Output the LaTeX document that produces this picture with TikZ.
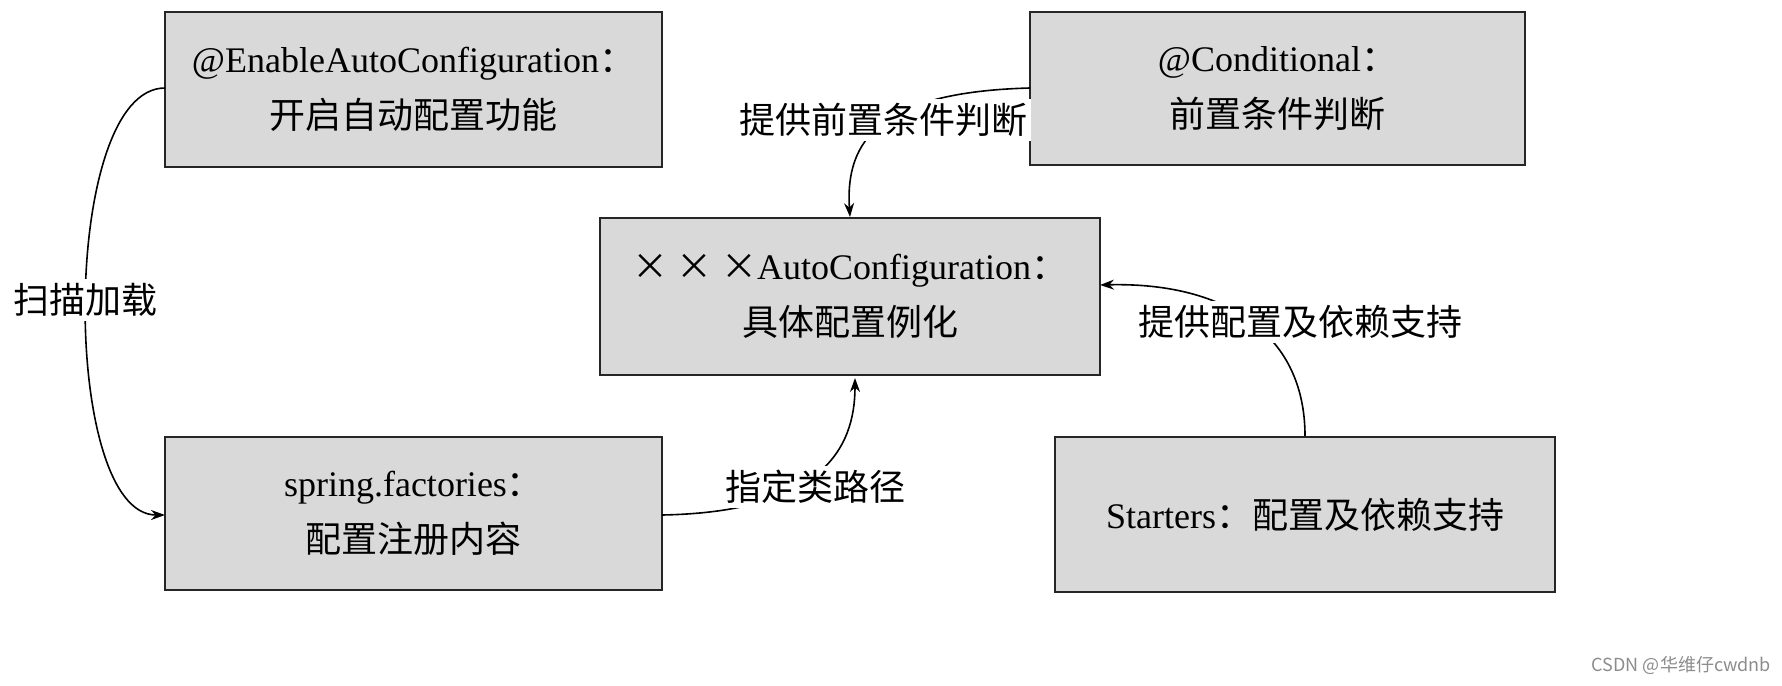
\documentclass[tikz,border=0pt]{standalone}
\usepackage{fontspec}
\setmainfont{Liberation Serif}
\newfontfamily\cjk{Noto Sans CJK SC}
\usetikzlibrary{arrows.meta}
\begin{document}
\begin{tikzpicture}[x=0.5pt,y=-0.5pt,
  box/.style={draw=black!85,line width=1pt,fill=black!15,inner sep=0pt,align=center,font=\fontsize{18}{28}\selectfont},
  lab/.style={fill=white,inner sep=2pt,font=\fontsize{18}{22}\selectfont\cjk},
  conn/.style={line width=0.8pt,-{Stealth[length=7pt,width=5pt]}}]
\useasboundingbox (0,0) rectangle (1782,685);
\node[box,minimum width=497*0.5pt,minimum height=155*0.5pt] (en) at (413.5,89.5) {@EnableAutoConfiguration{\cjk ：}\\{\cjk 开启自动配置功能}};
\node[box,minimum width=495*0.5pt,minimum height=153*0.5pt] (co) at (1277.5,88.5) {@Conditional{\cjk ：}\\{\cjk 前置条件判断}};
\node[box,minimum width=500*0.5pt,minimum height=157*0.5pt] (ce) at (850,296.5) {{\cjk × × ×}AutoConfiguration{\cjk ：}\\{\cjk 具体配置例化}};
\node[box,minimum width=497*0.5pt,minimum height=153*0.5pt] (sp) at (413.5,513.5) {spring.factories{\cjk ：}\\{\cjk 配置注册内容}};
\node[box,minimum width=500*0.5pt,minimum height=155*0.5pt] (st) at (1305,514.5) {Starters{\cjk ：配置及依赖支持}};
\coordinate (enL) at (165,88);
\coordinate (spL) at (165,515);
\draw[conn] (enL) .. controls (60,88) and (60,515) .. (spL);
\node[lab] (l1) at (85,300) {扫描加载};
\coordinate (coL) at (1030,88);
\draw[conn] (coL) .. controls (880,92) and (845,140) .. (ce.north);
\node[lab] (l2) at (883,120) {提供前置条件判断};
\coordinate (spR) at (662,515);
\draw[conn] (spR) .. controls (820,512) and (855,450) .. (855,378);
\node[lab] (l3) at (815,487) {指定类路径};
\coordinate (ceR) at (1100,285);
\draw[conn] (st.north) .. controls (1305,330) and (1220,282) .. (ceR);
\node[lab] (l4) at (1300,322) {提供配置及依赖支持};
\node[font=\fontsize{9}{10}\selectfont\cjk,text=black!45,anchor=south east] (wm) at (1778,682) {CSDN @华维仔cwdnb};
\end{tikzpicture}
\end{document}
